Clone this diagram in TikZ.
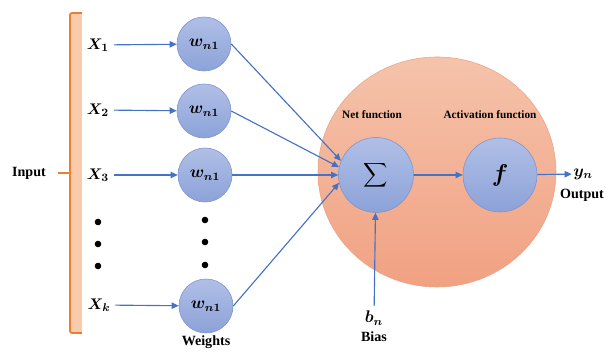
\documentclass[tikz,border=0pt]{standalone}
\usepackage{amsmath}
\usepackage{bm}
\usepackage{fontspec}
\setmainfont{Liberation Serif}
\usetikzlibrary{arrows.meta}
\definecolor{arrblue}{HTML}{4472C4}
\definecolor{ntop}{HTML}{B0BFE6}
\definecolor{nbot}{HTML}{8CA2D8}
\definecolor{nborder}{HTML}{7C93CF}
\definecolor{ctop}{HTML}{F5C3AB}
\definecolor{cbot}{HTML}{F1A182}
\definecolor{cborder}{HTML}{E8A584}
\definecolor{braceline}{HTML}{ED7D31}
\definecolor{bracefill}{HTML}{F8CBAD}
\begin{document}
\begin{tikzpicture}[x=0.025cm,y=-0.025cm,
    neuron/.style={circle,draw=nborder,top color=ntop,bottom color=nbot,inner sep=0pt,minimum size=1.35cm},
    arr/.style={draw=arrblue,line width=0.8pt,-{Triangle[length=5pt,width=4.5pt]}},
    lab/.style={font=\bfseries},
    mth/.style={font=\fontsize{11}{13}\selectfont}]
  \useasboundingbox (0,0) rectangle (607,352);
  % ------ la cellule -----------------
  \path[draw=cborder,top color=ctop,bottom color=cbot] (437,172) ellipse [x radius=119, y radius=115];
  % ------ entrees -----------------
  \fill[bracefill] (70,13) rectangle (82,333);
  \draw[braceline,line width=1.3pt,rounded corners=1.5pt] (82,13) -| (70,333) -- (82,333);
  \draw[braceline,line width=1.3pt] (70,173) -- (58,173);
  \node[lab] (inp) at (29,173) {Input};
  \node[mth] (x1) at (98,45) {$\bm{X_1}$};
  \node[mth] (x2) at (98,110) {$\bm{X_2}$};
  \node[mth] (x3) at (98,175) {$\bm{X_3}$};
  \node[mth] (xk) at (99,305) {$\bm{X_k}$};
  \foreach \y in {222,244,266} \fill (98,\y) circle [radius=3.3];
  % ------ poids -----------------
  \node[neuron,font=\large] (w1) at (204,44) {$\bm{w_{n1}}$};
  \node[neuron,font=\large] (w2) at (204,111) {$\bm{w_{n1}}$};
  \node[neuron,font=\large] (w3) at (205,175) {$\bm{w_{n1}}$};
  \node[neuron,font=\large] (wk) at (206,306) {$\bm{w_{n1}}$};
  \foreach \y in {220,242,265} \fill (205,\y) circle [radius=3.3];
  \node[lab] (wt) at (206,342) {Weights};
  % ------ somme et activation -----------------
  \node[neuron,minimum size=1.875cm,font=\fontsize{13}{15}\selectfont] (sum) at (376,175) {$\displaystyle\sum$};
  \node[neuron,minimum size=1.85cm,font=\LARGE] (act) at (500,175) {$\bm{f}$};
  \node[font=\bfseries\footnotesize] (net) at (372,115) {Net function};
  \node[font=\bfseries\footnotesize] (actl) at (490,115) {Activation function};
  \node[font=\large,inner sep=1pt] (yn) at (583,174) {$\bm{y_n}$};
  \node[lab] (out) at (582,195) {Output};
  \node[font=\large] (bn) at (374,318) {$\bm{b_n}$};
  \node[lab] (bias) at (374,337) {Bias};
  % ------ fleches -----------------
  \draw[arr] (x1) -- (w1);
  \draw[arr] (x2) -- (w2);
  \draw[arr] (x3) -- (w3);
  \draw[arr] (xk) -- (wk);
  \draw[arr] (w1.east) -- (sum.158);
  \draw[arr] (w2.east) -- (sum.168);
  \draw[arr] (w3) -- (sum);
  \draw[arr] (wk.east) -- (sum.192);
  \draw[arr] (sum) -- (act);
  \draw[arr] (act) -- (yn);
  \draw[arr] (bn) -- (sum);
\end{tikzpicture}
\end{document}
